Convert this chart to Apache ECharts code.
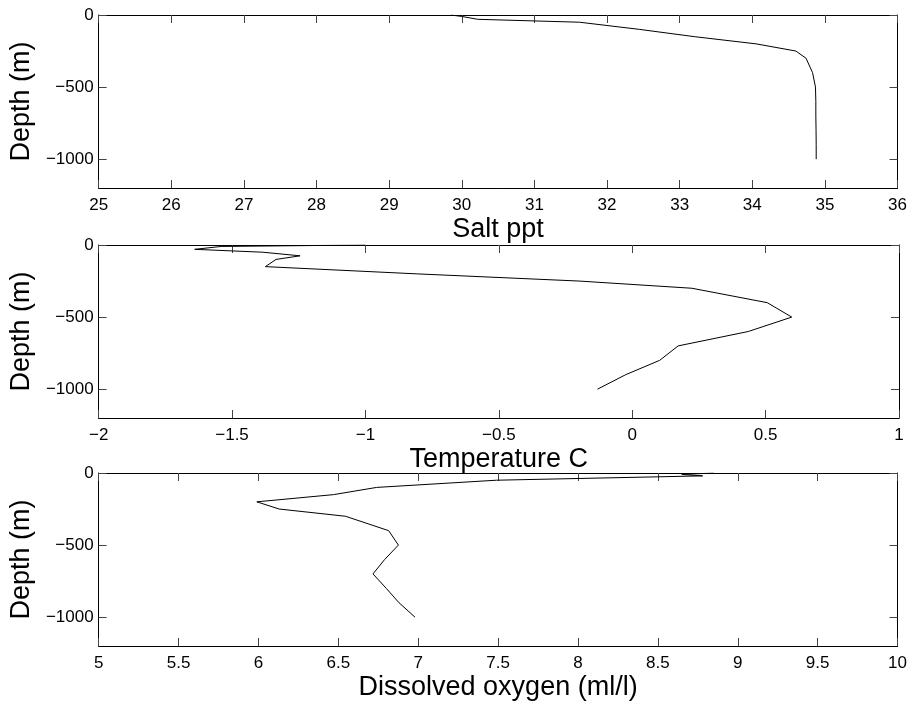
<!DOCTYPE html>
<html>
<head>
<meta charset="utf-8">
<script src="https://cdn.jsdelivr.net/npm/echarts@6/dist/echarts.min.js"></script>
<style>
html,body{margin:0;padding:0;background:#fff;}
#chart{width:910px;height:704px;}
</style>
</head>
<body>
<div id="chart"></div>
<script>
// ---- data (depth in m, positive downward; plotted as negative) ----
var saltDepth = [0, 10, 30, 50, 100, 150, 200, 250, 300, 400, 500, 600, 700, 800, 900, 1000];
var saltValue = [29.85, 30.0, 30.22, 31.62, 32.45, 33.2, 34.05, 34.6, 34.74, 34.83, 34.87, 34.875, 34.875, 34.878, 34.88, 34.88];

var tempDepth = [0, 10, 30, 50, 75, 100, 150, 200, 250, 300, 400, 500, 600, 700, 800, 900, 1000];
var tempValue = [-1.0, -1.54, -1.64, -1.385, -1.245, -1.335, -1.375, -0.81, -0.2, 0.224, 0.506, 0.598, 0.435, 0.172, 0.103, -0.025, -0.13];

var oxyDepth = [0, 10, 20, 50, 100, 150, 200, 250, 300, 400, 500, 600, 700, 800, 900, 1000];
var oxyValue = [8.85, 8.65, 8.78, 7.49, 6.74, 6.47, 5.99, 6.13, 6.545, 6.815, 6.876, 6.79, 6.717, 6.80, 6.88, 6.98];

var depthTicks = [0, -500, -1000];
var xNames = ['Salt ppt', 'Temperature C', 'Dissolved oxygen (ml/l)'];
var xRanges = [[25, 36, 1], [-2, 1, 0.5], [5, 10, 0.5]];
var yName = 'Depth (m)';

var FONT = '"Liberation Sans", Arial, Helvetica, sans-serif';
function fmt(v){ return String(v).replace('-', '\u2212'); }

var grids = [], xAxes = [], yAxes = [], series = [];
var tops = [15, 245, 473];
var profiles = [[saltValue, saltDepth], [tempValue, tempDepth], [oxyValue, oxyDepth]];

for (var i = 0; i < 3; i++) {
  grids.push({left: 98, top: tops[i], width: 801, height: 173, containLabel: false});
  var r = xRanges[i];
  var tickStyle = {show: true, inside: true, length: 8, lineStyle: {color: '#444', width: 1}};
  xAxes.push({
    type: 'value', gridIndex: i, position: 'bottom', min: r[0], max: r[1], interval: r[2],
    name: xNames[i], nameLocation: 'middle', nameGap: 28,
    nameTextStyle: {fontFamily: FONT, fontSize: 27, color: '#000'},
    axisLine: {show: true, onZero: false, lineStyle: {color: '#000', width: 1}},
    axisTick: tickStyle,
    axisLabel: {show: true, margin: 9, fontFamily: FONT, fontSize: 17, color: '#000', formatter: fmt, showMinLabel: true, showMaxLabel: true, hideOverlap: false},
    splitLine: {show: false}
  });
  xAxes.push({
    type: 'value', gridIndex: i, position: 'top', min: r[0], max: r[1], interval: r[2],
    axisLine: {show: true, onZero: false, lineStyle: {color: '#000', width: 1}},
    axisTick: tickStyle, axisLabel: {show: false}, splitLine: {show: false}
  });
  yAxes.push({
    type: 'value', gridIndex: i, position: 'left', min: -1200, max: 0,
    name: yName, nameLocation: 'middle', nameGap: 60, nameRotate: 90,
    nameTextStyle: {fontFamily: FONT, fontSize: 27, color: '#000'},
    axisLine: {show: true, onZero: false, lineStyle: {color: '#000', width: 1}},
    axisTick: {show: true, inside: true, length: 8, lineStyle: {color: '#444', width: 1}, customValues: depthTicks},
    axisLabel: {show: true, margin: 5, fontFamily: FONT, fontSize: 17, color: '#000', formatter: fmt, customValues: depthTicks},
    splitLine: {show: false}
  });
  yAxes.push({
    type: 'value', gridIndex: i, position: 'right', min: -1200, max: 0,
    axisLine: {show: true, onZero: false, lineStyle: {color: '#000', width: 1}},
    axisTick: {show: true, inside: true, length: 8, lineStyle: {color: '#444', width: 1}, customValues: depthTicks},
    axisLabel: {show: false}, splitLine: {show: false}
  });
  var p = profiles[i];
  var d = [];
  for (var k = 0; k < p[0].length; k++) d.push([p[0][k], -p[1][k]]);
  series.push({
    type: 'line', xAxisIndex: 2 * i, yAxisIndex: 2 * i, data: d,
    showSymbol: false, symbol: 'none', lineStyle: {color: '#000', width: 1}, silent: true
  });
}

var chart = echarts.init(document.getElementById('chart'), null, {renderer: 'canvas'});
chart.setOption({
  animation: false,
  backgroundColor: '#fff',
  grid: grids, xAxis: xAxes, yAxis: yAxes, series: series
});
</script>
</body>
</html>
